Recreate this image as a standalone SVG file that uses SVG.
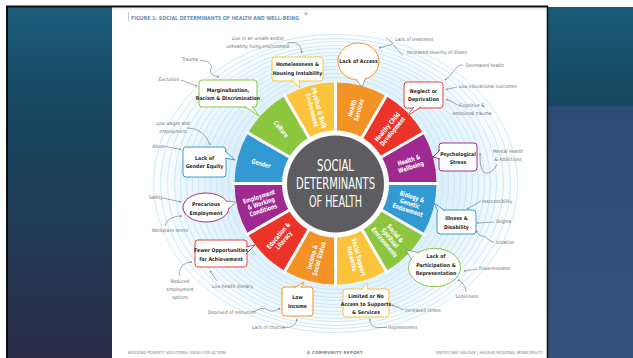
<svg xmlns="http://www.w3.org/2000/svg" width="633" height="358" viewBox="0 0 633 358">
<defs>
<linearGradient id="lp" x1="0" y1="0" x2="0" y2="1">
<stop offset="0" stop-color="#1c5c7c"/><stop offset="0.3" stop-color="#17475f"/><stop offset="1" stop-color="#2c2c48"/>
</linearGradient>
<linearGradient id="rp" x1="0" y1="0" x2="0" y2="1">
<stop offset="0" stop-color="#1a5a77"/><stop offset="0.28" stop-color="#15485f"/><stop offset="0.285" stop-color="#2d4b74"/><stop offset="1" stop-color="#34507c"/>
</linearGradient>
<radialGradient id="glow" cx="0.5" cy="0.5" r="0.5">
<stop offset="0.5" stop-color="#d9eef9"/><stop offset="0.8" stop-color="#eef8fd"/><stop offset="1" stop-color="#ffffff" stop-opacity="0"/>
</radialGradient>
<marker id="ah" viewBox="0 0 6 6" refX="5" refY="3" markerWidth="4" markerHeight="4" orient="auto">
<path d="M0,0.5 L5,3 L0,5.5" fill="none" stroke="#6d6e71" stroke-width="1"/>
</marker>
<style>
.ring{fill:none;stroke:#c4e3f3;stroke-width:0.8}
.seg{stroke:none}
.sl{font-family:'Liberation Sans Narrow','DejaVu Sans Condensed','Liberation Sans',sans-serif;font-weight:bold;font-size:6.6px;fill:#ffffff;text-anchor:middle}
.bub{fill:#ffffff;stroke-width:1}
.tail{fill:#ffffff;stroke-width:1}
.bt{font-family:'Liberation Sans Narrow','DejaVu Sans Condensed','Liberation Sans',sans-serif;font-weight:bold;font-size:5.2px;fill:#231f20;text-anchor:middle}
.an{font-family:'Liberation Sans Narrow','DejaVu Sans Condensed','Liberation Sans',sans-serif;font-size:4.8px;fill:#6d6e71}
.mid{text-anchor:middle}
.ar{fill:none;stroke:#6d6e71;stroke-width:0.6;marker-end:url(#ah)}
.ln{fill:none;stroke:#6d6e71;stroke-width:0.6}
.ct{font-family:'Liberation Sans Narrow','DejaVu Sans Condensed','Liberation Sans',sans-serif;font-size:15.5px;fill:#ffffff;text-anchor:middle}
.ft{font-family:'Liberation Sans Narrow','DejaVu Sans Condensed','Liberation Sans',sans-serif;font-size:4.2px;fill:#7a7a7a}
</style>
</defs>

<g id="background">
<rect width="633" height="358" fill="#ffffff"/>
<rect x="6" y="7" width="106" height="351" fill="url(#lp)"/>
<rect x="547" y="7" width="86" height="351" fill="url(#rp)"/>
<line x1="7" y1="7" x2="7" y2="358" stroke="#0a0d12" stroke-width="2"/>
<line x1="6" y1="6.5" x2="548" y2="6.5" stroke="#0a0d12" stroke-width="2"/>
<line x1="547.5" y1="6" x2="547.5" y2="358" stroke="#0a0d12" stroke-width="1.5"/>
<line x1="112" y1="9" x2="546" y2="9" stroke="#d0d0d0" stroke-width="0.6"/>
</g>

<g id="title">
<line x1="128.5" y1="12" x2="128.5" y2="21" stroke="#9aa7b3" stroke-width="0.6"/>
<text x="131" y="19.5" font-family="'Liberation Sans Narrow','DejaVu Sans Condensed','Liberation Sans',sans-serif" font-weight="bold" font-size="5.6" fill="#6b8fb0" textLength="168" lengthAdjust="spacingAndGlyphs">FIGURE 1: SOCIAL DETERMINANTS OF HEALTH AND WELL-BEING</text>
<text x="304" y="15" font-family="'Liberation Sans',sans-serif" font-weight="bold" font-size="3" fill="#6b8fb0">16</text>
</g>

<g id="rings">
<ellipse cx="335.5" cy="183.5" rx="195" ry="160" fill="url(#glow)"/>
<ellipse class="ring" cx="335.5" cy="183.5" rx="107" ry="106"/>
<ellipse class="ring" cx="335.5" cy="183.5" rx="113" ry="110"/>
<ellipse class="ring" cx="335.5" cy="183.5" rx="119" ry="114"/>
<ellipse class="ring" cx="335.5" cy="183.5" rx="125" ry="117"/>
<ellipse class="ring" cx="335.5" cy="183.5" rx="131" ry="121"/>
<ellipse class="ring" cx="335.5" cy="183.5" rx="137" ry="124"/>
<ellipse class="ring" cx="335.5" cy="183.5" rx="143" ry="128"/>
<ellipse class="ring" cx="335.5" cy="183.5" rx="149" ry="131"/>
<ellipse class="ring" cx="335.5" cy="183.5" rx="155" ry="135"/>
<ellipse class="ring" cx="335.5" cy="183.5" rx="161" ry="138"/>
<ellipse class="ring" cx="335.5" cy="183.5" rx="168" ry="142"/>
<ellipse class="ring" cx="335.5" cy="183.5" rx="175" ry="145"/>
<ellipse class="ring" cx="335.5" cy="183.5" rx="182" ry="149"/>
</g>

<g id="wheel">
<g id="seg-health-services"><path class="seg" fill="#f39325" d="M335.5,183.5 L335.5,82.5 A101,101 0 0 1 386,96.03 Z"/>
<text class="sl" transform="translate(355.4,109.1) rotate(-75) scale(0.8,1)"><tspan x="0" y="-1.2">Health</tspan><tspan x="0" y="5.8">Services</tspan></text></g>
<g id="seg-healthy-child"><path class="seg" fill="#ec3327" d="M335.5,183.5 L386,96.03 A101,101 0 0 1 422.97,133 Z"/>
<text class="sl" transform="translate(389.9,129.1) rotate(-50) scale(0.8,1)"><tspan x="0" y="-1.2">Healthy Child</tspan><tspan x="0" y="5.8">Development</tspan></text></g>
<g id="seg-health-wellbeing"><path class="seg" fill="#a0298f" d="M335.5,183.5 L422.97,133 A101,101 0 0 1 436.5,183.5 Z"/>
<text class="sl" transform="translate(409.9,163.6) rotate(-18) scale(0.8,1)"><tspan x="0" y="-1.2">Health &amp;</tspan><tspan x="0" y="5.8">Wellbeing</tspan></text></g>
<g id="seg-biology"><path class="seg" fill="#3399d3" d="M335.5,183.5 L436.5,183.5 A101,101 0 0 1 422.97,234 Z"/>
<text class="sl" transform="translate(409.9,203.4) rotate(18) scale(0.8,1)"><tspan x="0" y="-4.7">Biology &amp;</tspan><tspan x="0" y="2.3">Genetic</tspan><tspan x="0" y="9.3">Endowment</tspan></text></g>
<g id="seg-social-spiritual"><path class="seg" fill="#8cc63f" d="M335.5,183.5 L422.97,234 A101,101 0 0 1 386,270.97 Z"/>
<text class="sl" transform="translate(389.9,237.9) rotate(50) scale(0.8,1)"><tspan x="0" y="-4.7">Social &amp;</tspan><tspan x="0" y="2.3">Spiritual</tspan><tspan x="0" y="9.3">Environments</tspan></text></g>
<g id="seg-social-support"><path class="seg" fill="#fcc43d" d="M335.5,183.5 L386,270.97 A101,101 0 0 1 335.5,284.5 Z"/>
<text class="sl" transform="translate(355.4,257.9) rotate(75) scale(0.8,1)"><tspan x="0" y="-1.2">Social Support</tspan><tspan x="0" y="5.8">Networks</tspan></text></g>
<g id="seg-income"><path class="seg" fill="#f39325" d="M335.5,183.5 L335.5,284.5 A101,101 0 0 1 285,270.97 Z"/>
<text class="sl" transform="translate(315.6,257.9) rotate(-75) scale(0.8,1)"><tspan x="0" y="-1.2">Income &amp;</tspan><tspan x="0" y="5.8">Social Status</tspan></text></g>
<g id="seg-education"><path class="seg" fill="#ec3327" d="M335.5,183.5 L285,270.97 A101,101 0 0 1 248.03,234 Z"/>
<text class="sl" transform="translate(281.1,237.9) rotate(-50) scale(0.8,1)"><tspan x="0" y="-1.2">Education &amp;</tspan><tspan x="0" y="5.8">Literacy</tspan></text></g>
<g id="seg-employment"><path class="seg" fill="#a0298f" d="M335.5,183.5 L248.03,234 A101,101 0 0 1 234.5,183.5 Z"/>
<text class="sl" transform="translate(261.1,203.4) rotate(-18) scale(0.8,1)"><tspan x="0" y="-4.7">Employment</tspan><tspan x="0" y="2.3">&amp; Working</tspan><tspan x="0" y="9.3">Conditions</tspan></text></g>
<g id="seg-gender"><path class="seg" fill="#3399d3" d="M335.5,183.5 L234.5,183.5 A101,101 0 0 1 248.03,133 Z"/>
<text class="sl" transform="translate(261.1,163.6) rotate(15) scale(0.8,1)"><tspan x="0" y="2.3">Gender</tspan></text></g>
<g id="seg-culture"><path class="seg" fill="#8cc63f" d="M335.5,183.5 L248.03,133 A101,101 0 0 1 285,96.03 Z"/>
<text class="sl" transform="translate(281.1,129.1) rotate(50) scale(0.8,1)"><tspan x="0" y="2.3">Culture</tspan></text></g>
<g id="seg-physical"><path class="seg" fill="#fcc43d" d="M335.5,183.5 L285,96.03 A101,101 0 0 1 335.5,82.5 Z"/>
<text class="sl" transform="translate(315.6,109.1) rotate(75) scale(0.8,1)"><tspan x="0" y="-1.2">Physical &amp; Built</tspan><tspan x="0" y="5.8">Environment</tspan></text></g>
<g id="seg-gaps" stroke="#ffffff" stroke-width="3">
<line x1="335.5" y1="183.5" x2="335.5" y2="80"/>
<line x1="335.5" y1="183.5" x2="387.25" y2="93.9"/>
<line x1="335.5" y1="183.5" x2="425.1" y2="131.75"/>
<line x1="335.5" y1="183.5" x2="439" y2="183.5"/>
<line x1="335.5" y1="183.5" x2="425.1" y2="235.25"/>
<line x1="335.5" y1="183.5" x2="387.25" y2="273.1"/>
<line x1="335.5" y1="183.5" x2="335.5" y2="287"/>
<line x1="335.5" y1="183.5" x2="283.75" y2="273.1"/>
<line x1="335.5" y1="183.5" x2="245.9" y2="235.25"/>
<line x1="335.5" y1="183.5" x2="232" y2="183.5"/>
<line x1="335.5" y1="183.5" x2="245.9" y2="131.75"/>
<line x1="335.5" y1="183.5" x2="283.75" y2="93.9"/>
</g>
</g>

<g id="center">
<circle cx="335.5" cy="184" r="53.5" fill="#ffffff"/>
<circle cx="335.5" cy="184" r="48.5" fill="#5d5c60"/>
<text class="ct" x="335.5" y="171" textLength="37" lengthAdjust="spacingAndGlyphs">SOCIAL</text>
<text class="ct" x="335.5" y="189" textLength="79" lengthAdjust="spacingAndGlyphs">DETERMINANTS</text>
<text class="ct" x="335.5" y="207" textLength="53" lengthAdjust="spacingAndGlyphs">OF HEALTH</text>
</g>

<g id="callout-homelessness">
<rect class="bub" x="272" y="57" width="51" height="24" rx="3" stroke="#fbc33e"/>
<path class="tail" d="M292,80 L300,88 L299,80" stroke="#fbc33e"/>
<text class="bt" x="297.5" y="66">Homelessness &amp;</text>
<text class="bt" x="297.5" y="74.5">Housing Instability</text>
</g>
<g id="callout-marginalization">
<rect class="bub" x="199" y="80" width="58" height="27" rx="3" stroke="#8dc63f"/>
<path class="tail" d="M244,106 L259,116 L252,106" stroke="#8dc63f"/>
<text class="bt" x="228" y="91.5">Marginalization,</text>
<text class="bt" x="228" y="100">Racism &amp; Discrimination</text>
</g>
<g id="callout-access">
<ellipse class="bub" cx="358.5" cy="61.5" rx="20.5" ry="18.5" stroke="#f39325"/>
<path d="M356.5,79 L362,87 L365.5,78 Z" fill="#ffffff"/>
<path class="ln" d="M356.4,79.9 L362,87 L365.8,78" stroke="#f39325" stroke-width="1"/>
<text class="bt" x="358.5" y="63">Lack of Access</text>
</g>
<g id="callout-neglect">
<rect class="bub" x="404" y="82" width="39" height="26" rx="3" stroke="#e8453b"/>
<path class="tail" d="M414,107 L407,116 L421,107" stroke="#e8453b"/>
<text class="bt" x="423.5" y="92.5">Neglect or</text>
<text class="bt" x="423.5" y="101">Deprivation</text>
</g>
<g id="callout-psych">
<rect class="bub" x="439" y="143" width="38" height="28" rx="3" stroke="#a2308f"/>
<path class="tail" d="M440,150 L433,157 L440,159" stroke="#a2308f"/>
<text class="bt" x="458" y="155.5">Psychological</text>
<text class="bt" x="458" y="164">Stress</text>
</g>
<g id="callout-illness">
<rect class="bub" x="437" y="210" width="39" height="24" rx="3" stroke="#3a9ad5"/>
<path class="tail" d="M438,211 L434,203 L445,211" stroke="#3a9ad5"/>
<text class="bt" x="456.5" y="220">Illness &amp;</text>
<text class="bt" x="456.5" y="228.5">Disability</text>
</g>
<g id="callout-participation">
<ellipse class="bub" cx="434.5" cy="267.5" rx="26" ry="19.2" stroke="#8dc63f"/>
<path d="M411.5,258 L406,250 L418,253 Z" fill="#ffffff"/>
<path class="ln" d="M410.8,258.5 L406,250 L418.5,252.5" stroke="#8dc63f" stroke-width="1"/>
<text class="bt" x="436" y="258">Lack of</text>
<text class="bt" x="436" y="266.5">Participation &amp;</text>
<text class="bt" x="436" y="275">Representation</text>
</g>
<g id="callout-limited">
<rect class="bub" x="343" y="289" width="46" height="28" rx="3" stroke="#fbc33e"/>
<path class="tail" d="M361,290 L367,283 L368,290" stroke="#fbc33e"/>
<text class="bt" x="366" y="297.5">Limited or No</text>
<text class="bt" x="366" y="305.5">Access to Supports</text>
<text class="bt" x="366" y="313.5">&amp; Services</text>
</g>
<g id="callout-lowincome">
<rect class="bub" x="282" y="287" width="31" height="29" rx="3" stroke="#f39325"/>
<path class="tail" d="M294,288 L304,282 L301,288" stroke="#f39325"/>
<text class="bt" x="297.5" y="299">Low</text>
<text class="bt" x="297.5" y="307.5">Income</text>
</g>
<g id="callout-fewer">
<rect class="bub" x="195" y="240" width="52" height="27" rx="3" stroke="#e8453b"/>
<path class="tail" d="M246,247 L255,245 L246,254" stroke="#e8453b"/>
<text class="bt" x="221" y="252">Fewer Opportunities</text>
<text class="bt" x="221" y="260.5">for Achievement</text>
</g>
<g id="callout-precarious">
<ellipse class="bub" cx="206" cy="207.5" rx="23" ry="14.5" stroke="#a2308f"/>
<path d="M227,202 L236,202 L228.5,208 Z" fill="#ffffff"/>
<path class="ln" d="M226.5,201 L236,202 L228.6,209" stroke="#a2308f" stroke-width="1"/>
<text class="bt" x="206" y="206">Precarious</text>
<text class="bt" x="206" y="214.5">Employment</text>
</g>
<g id="callout-gender">
<rect class="bub" x="183" y="147" width="43" height="30" rx="3" stroke="#3a9ad5"/>
<path class="tail" d="M225,151 L235,160 L225,158" stroke="#3a9ad5"/>
<text class="bt" x="204.5" y="159.5">Lack of</text>
<text class="bt" x="204.5" y="168">Gender Equity</text>
</g>

<g id="annotations">
<text class="an mid" x="258" y="39.5">Live in an unsafe and/or</text>
<text class="an mid" x="258" y="48">unhealthy living environment</text>
<text class="an mid" x="190" y="61">Trauma</text>
<text class="an mid" x="169" y="81">Exclusion</text>
<text class="an" x="395" y="40.5">Lack of treatment</text>
<text class="an" x="407" y="54">Increased severity of illness</text>
<text class="an" x="466" y="66.5">Decreased health</text>
<text class="an" x="459" y="87.5">Low educational outcomes</text>
<text class="an mid" x="472" y="107">Cognitive &amp;</text>
<text class="an mid" x="472" y="115">emotional trauma</text>
<text class="an mid" x="508" y="153">Mental Health</text>
<text class="an mid" x="508" y="161">&amp; Addictions</text>
<text class="an" x="482" y="202.5">Inaccessibility</text>
<text class="an" x="496" y="223">Stigma</text>
<text class="an" x="496" y="244">Isolation</text>
<text class="an" x="479" y="270">Powerlessness</text>
<text class="an mid" x="467" y="297.5">Loneliness</text>
<text class="an" x="405" y="311.5">Increased illness</text>
<text class="an" x="388" y="329">Hopelessness</text>
<text class="an" x="252" y="329">Lack of choices</text>
<text class="an" x="208" y="314">Deprived of resources</text>
<text class="an mid" x="180" y="282.5">Reduced</text>
<text class="an mid" x="180" y="290.5">employment</text>
<text class="an mid" x="180" y="298.5">options</text>
<text class="an" x="212" y="287.5">Low health literacy</text>
<text class="an mid" x="156" y="198.5">Safety</text>
<text class="an mid" x="170" y="231.5">Workplace stress</text>
<text class="an mid" x="159" y="147.5">Abuse</text>
<text class="an mid" x="173" y="125">Low wages and</text>
<text class="an mid" x="173" y="132.5">employment</text>
</g>

<g id="connectors">
<path class="ar" d="M287,43 C296,41 302,45 301.5,53"/>
<path class="ar" d="M200,60 C208,61 213,64 211,69 C209,74 214,76 219,77"/>
<path class="ar" d="M181,80 L197,86"/>
<path class="ln" d="M386,38 C392,41 394,46 397,49 C399,52 401,54 403,55"/>
<path class="ar" d="M392,44.5 L379,48"/>
<path class="ar" d="M463,65 C456,65 456,69 453,72 C450,76 448,78 445,80"/>
<path class="ar" d="M457,87 L446,89.5"/>
<path class="ar" d="M461,106 C455,105 452,100 446,99.5"/>
<path class="ar" d="M497,164 C493,173 485,176 482,170 C480,165 480,159 480,153"/>
<path class="ar" d="M481,201 L467,209"/>
<path class="ar" d="M494,222 L477,223"/>
<path class="ar" d="M494,242 C488,241 486,236 482,236 C479,236 478,233 476,231"/>
<path class="ar" d="M477,269 L464,271"/>
<path class="ar" d="M466,292 C466,286 462,282 458,280"/>
<path class="ar" d="M404,310 L392,305"/>
<path class="ar" d="M387,327.5 L378,327.5 C372,327.5 370,324 370,319"/>
<path class="ar" d="M283,327.5 C290,328 296,326 297,319"/>
<path class="ar" d="M253,312 C258,310 262,307 266,309 C270,312 275,312 280,308"/>
<path class="ar" d="M180,276 C178,268 184,262 192,262"/>
<path class="ar" d="M217,281 L210,271"/>
<path class="ar" d="M163,198 L181,202"/>
<path class="ar" d="M165,226 C166,220 172,216 182,216"/>
<path class="ar" d="M166,146.5 L181,149.5"/>
<path class="ar" d="M187,128 C198,128 206,134 210,145"/>
</g>

<g id="footer">
<text class="ft" x="128" y="353.5">BUILDING POVERTY SOLUTIONS: IDEAS FOR ACTION</text>
<text class="ft" x="335" y="353.5" text-anchor="middle" font-weight="bold" fill="#333333" letter-spacing="0.4">A COMMUNITY REPORT</text>
<text class="ft" x="543" y="353.5" text-anchor="end">UNITED WAY HALIFAX | HALIFAX REGIONAL MUNICIPALITY</text>
</g>
</svg>
